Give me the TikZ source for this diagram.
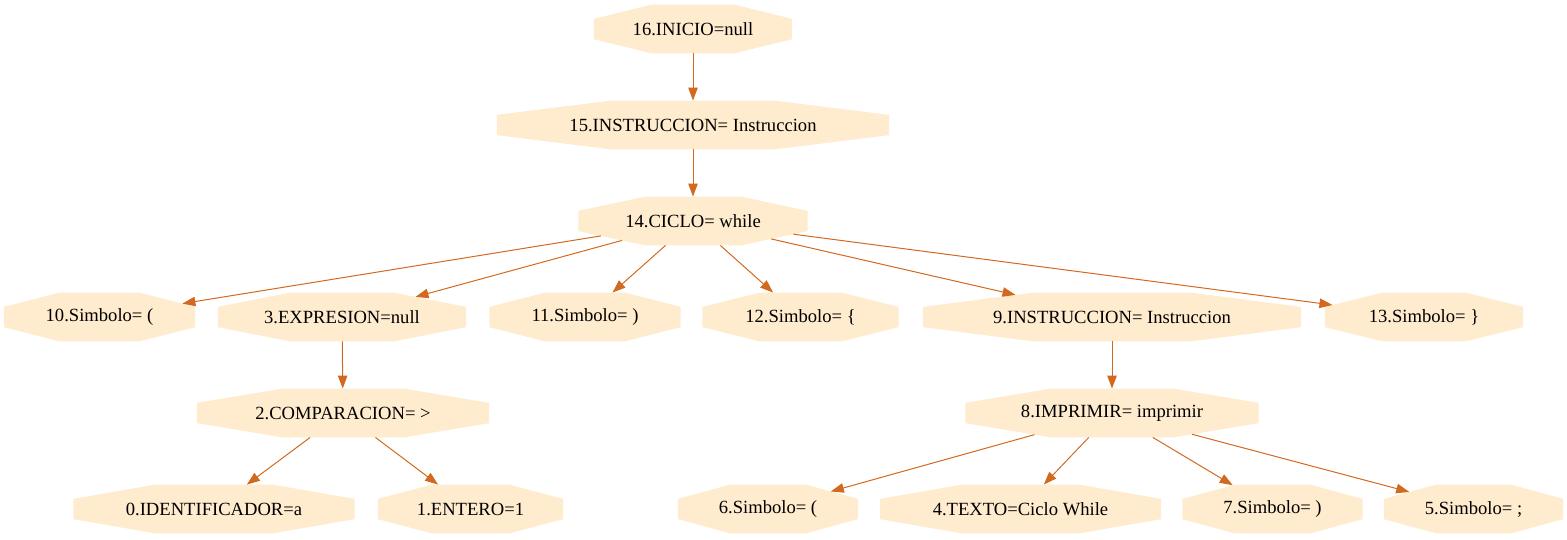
\documentclass[tikz,border=0pt]{standalone}
\usepackage{fontspec}
\setmainfont{Liberation Serif}
\newfontfamily\gvfont{Liberation Serif}
\usetikzlibrary{arrows.meta}
\definecolor{nodefill}{HTML}{FFEBCD}
\definecolor{edgecol}{HTML}{D2691E}
\makeatletter
\pgfdeclareshape{gvoct}{%
  \inheritsavedanchors[from=rectangle]
  \inheritanchor[from=rectangle]{center}
  \inheritanchor[from=rectangle]{north}
  \inheritanchor[from=rectangle]{south}
  \inheritanchor[from=rectangle]{east}
  \inheritanchor[from=rectangle]{west}
  \inheritanchor[from=rectangle]{mid}
  \inheritanchor[from=rectangle]{base}
  \backgroundpath{%
    \southwest \edef\gvxa{\the\pgf@x}\edef\gvya{\the\pgf@y}%
    \northeast \edef\gvxb{\the\pgf@x}\edef\gvyb{\the\pgf@y}%
    \pgfmathsetmacro\gvcx{0.29289*(\gvxb-\gvxa)}%
    \pgfmathsetmacro\gvcy{0.29289*(\gvyb-\gvya)}%
    \pgfpathmoveto{\pgfpoint{\gvxa+\gvcx}{\gvya}}%
    \pgfpathlineto{\pgfpoint{\gvxb-\gvcx}{\gvya}}%
    \pgfpathlineto{\pgfpoint{\gvxb}{\gvya+\gvcy}}%
    \pgfpathlineto{\pgfpoint{\gvxb}{\gvyb-\gvcy}}%
    \pgfpathlineto{\pgfpoint{\gvxb-\gvcx}{\gvyb}}%
    \pgfpathlineto{\pgfpoint{\gvxa+\gvcx}{\gvyb}}%
    \pgfpathlineto{\pgfpoint{\gvxa}{\gvyb-\gvcy}}%
    \pgfpathlineto{\pgfpoint{\gvxa}{\gvya+\gvcy}}%
    \pgfpathclose
  }%
  \anchorborder{%
    \edef\gvdx{\the\pgf@x}\edef\gvdy{\the\pgf@y}%
    \southwest \edef\gvxa{\the\pgf@x}\edef\gvya{\the\pgf@y}%
    \northeast \edef\gvxb{\the\pgf@x}\edef\gvyb{\the\pgf@y}%
    \pgfmathsetmacro\gvhx{0.5*(\gvxb-\gvxa)}%
    \pgfmathsetmacro\gvhy{0.5*(\gvyb-\gvya)}%
    \pgfmathsetmacro\gvmx{0.5*(\gvxb+\gvxa)}%
    \pgfmathsetmacro\gvmy{0.5*(\gvyb+\gvya)}%
    \pgfmathsetmacro\gvu{abs(\gvdx)/\gvhx}%
    \pgfmathsetmacro\gvv{abs(\gvdy)/\gvhy}%
    \pgfmathsetmacro\gvs{max(max(\gvu,\gvv),(\gvu+\gvv)/1.41421)}%
    \pgfmathsetmacro\gvf{\gvs>0.0001 ? 1/\gvs : 1}%
    \pgfmathsetmacro\gvrx{\gvmx+\gvf*\gvdx}%
    \pgfmathsetmacro\gvry{\gvmy+\gvf*\gvdy}%
    \pgf@x=\gvrx pt\relax
    \pgf@y=\gvry pt\relax
  }%
}
\makeatother
\tikzset{
  oct/.style={shape=gvoct, fill=nodefill, draw=none,
    minimum width=#1pt, minimum height=48.5pt, inner sep=1pt,
    font=\gvfont\fontsize{18.6}{22}\selectfont},
  edge/.style={draw=edgecol, line width=1pt,
    -{Triangle[length=13pt,width=9.5pt]}}
}
\begin{document}
\begin{tikzpicture}[x=1pt,y=-1pt]
\useasboundingbox (0,0) rectangle (1567,539);
\node[oct=198] (n16) at (693,29)     {16.INICIO=null};
\node[oct=392] (n15) at (693,125)    {15.INSTRUCCION= Instruccion};
\node[oct=229] (n14) at (693,221)    {14.CICLO= while};
\node[oct=191] (n10) at (99.5,317)   {10.Simbolo= (};
\node[oct=248] (n3)  at (342,317)    {3.EXPRESION=null};
\node[oct=191] (n11) at (585,317)    {11.Simbolo= )};
\node[oct=196] (n12) at (800.5,317)  {12.Simbolo= \{};
\node[oct=378] (n9)  at (1112,317)   {9.INSTRUCCION= Instruccion};
\node[oct=198] (n13) at (1424,317)   {13.Simbolo= \}};
\node[oct=292] (n2)  at (343,413)    {2.COMPARACION= >};
\node[oct=293] (n8)  at (1112,413)   {8.IMPRIMIR= imprimir};
\node[oct=281] (n0)  at (214,509)    {0.IDENTIFICADOR=a};
\node[oct=185] (n1)  at (470.5,509)  {1.ENTERO=1};
\node[oct=180] (n6)  at (768,509)    {6.Simbolo= (};
\node[oct=281] (n4)  at (1020.5,509) {4.TEXTO=Ciclo While};
\node[oct=180] (n7)  at (1272.5,509) {7.Simbolo= )};
\node[oct=179] (n5)  at (1473.5,509) {5.Simbolo= ;};
\draw[edge] (n16) -- (n15);
\draw[edge] (n15) -- (n14);
\draw[edge] (n14) -- (n10);
\draw[edge] (n14) -- (n3);
\draw[edge] (n14) -- (n11);
\draw[edge] (n14) -- (n12);
\draw[edge] (n14) -- (n9);
\draw[edge] (n14) -- (n13);
\draw[edge] (n3) -- (n2);
\draw[edge] (n2) -- (n0);
\draw[edge] (n2) -- (n1);
\draw[edge] (n9) -- (n8);
\draw[edge] (n8) -- (n6);
\draw[edge] (n8) -- (n4);
\draw[edge] (n8) -- (n7);
\draw[edge] (n8) -- (n5);
\end{tikzpicture}
\end{document}
